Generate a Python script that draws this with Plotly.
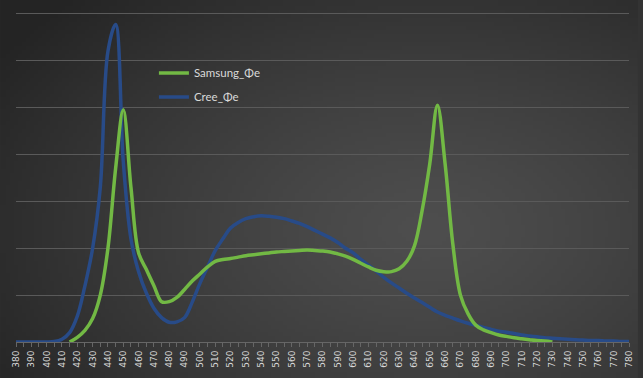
import base64, struct, zlib
import numpy as np
import plotly.graph_objects as go

# ---- data ----
cree_nm = list(range(380, 785, 5))
cree_val = [0, 0, 0, 0, 0, 0.01, 0.06, 0.2, 0.55, 1.2,
            2.0, 3.3, 6.2, 6.77, 3.85, 2.2, 1.5, 1.05, 0.72, 0.52,
            0.42, 0.43, 0.52, 0.85, 1.25, 1.6, 1.95, 2.2, 2.43, 2.55,
            2.63, 2.67, 2.69, 2.68, 2.66, 2.63, 2.58, 2.53, 2.46, 2.38,
            2.3, 2.22, 2.12, 2.0, 1.9, 1.76, 1.64, 1.51, 1.38, 1.26,
            1.15, 1.04, 0.94, 0.84, 0.74, 0.64, 0.57, 0.51, 0.45, 0.4,
            0.36, 0.31, 0.27, 0.23, 0.21, 0.18, 0.15, 0.13, 0.11, 0.09,
            0.08, 0.07, 0.06, 0.05, 0.04, 0.03, 0.03, 0.02, 0.02, 0.01,
            0.01]

samsung_nm = list(range(415, 735, 5))
samsung_val = [0.0, 0.1, 0.25, 0.5, 1.0, 2.0, 3.7, 4.95, 3.3, 1.9,
               1.55, 1.2, 0.86, 0.86, 0.95, 1.12, 1.3, 1.45, 1.6, 1.72,
               1.76, 1.78, 1.81, 1.84, 1.86, 1.88, 1.9, 1.92, 1.93, 1.94,
               1.95, 1.96, 1.95, 1.94, 1.92, 1.88, 1.83, 1.76, 1.68, 1.6,
               1.53, 1.5, 1.5, 1.56, 1.72, 2.05, 2.8, 3.8, 5.05, 3.8,
               2.1, 1.0, 0.6, 0.36, 0.26, 0.2, 0.15, 0.12, 0.09, 0.07,
               0.05, 0.03, 0.02, 0.0]

tick_labels = list(range(380, 790, 10))

W, H = 643, 378
ML, MR, MT, MB = 16, 9, 9, 36
PW, PH = W - ML - MR, H - MT - MB

# ---- radial gradient background as PNG data URI ----
def gradient_uri(w=161, h=95):
    ys, xs = np.mgrid[0:h, 0:w]
    px = xs / (w - 1) * W
    py = ys / (h - 1) * H
    d = np.sqrt(((px - 430) / 520) ** 2 + ((py - 230) / 330) ** 2)
    t = np.clip(d, 0, 1) ** 1.3
    inner, outer = 78.0, 36.0
    c = (inner + (outer - inner) * t).astype(np.uint8)
    arr = np.stack([c, c, c], axis=-1)
    raw = b"".join(b"\x00" + arr[r].tobytes() for r in range(h))

    def chunk(tag, data):
        return struct.pack(">I", len(data)) + tag + data + struct.pack(">I", zlib.crc32(tag + data) & 0xffffffff)

    png = b"\x89PNG\r\n\x1a\n" + chunk(b"IHDR", struct.pack(">IIBBBBB", w, h, 8, 2, 0, 0, 0)) \
        + chunk(b"IDAT", zlib.compress(raw, 9)) + chunk(b"IEND", b"")
    return "data:image/png;base64," + base64.b64encode(png).decode()

fig = go.Figure()
fig.add_trace(go.Scatter(x=cree_nm, y=cree_val, mode="lines", name="Cree_Φe",
                         line=dict(color="#284b88", width=3.5, shape="spline", smoothing=1.0),
                         legend="legend2"))
fig.add_trace(go.Scatter(x=samsung_nm, y=samsung_val, mode="lines", name="Samsung_Φe",
                         line=dict(color="#72b944", width=3.5, shape="spline", smoothing=1.0),
                         legend="legend"))

fig.update_layout(
    width=W, height=H,
    margin=dict(l=ML, r=MR, t=MT, b=MB),
    paper_bgcolor="#333333",
    plot_bgcolor="rgba(0,0,0,0)",
    images=[dict(source=gradient_uri(), xref="paper", yref="paper", x=-ML / PW, y=1 + MT / PH,
                 sizex=W / PW, sizey=H / PH, sizing="stretch", xanchor="left", yanchor="top",
                 layer="below")],
    font=dict(family="Lato, Open Sans, sans-serif", color="#d9d9d9"),
    showlegend=True,
    legend=dict(x=0.225, y=0.808, xanchor="left", yanchor="middle", bgcolor="rgba(0,0,0,0)",
                font=dict(size=11.5, color="#d9d9d9"), itemwidth=30),
    legend2=dict(x=0.225, y=0.736, xanchor="left", yanchor="middle", bgcolor="rgba(0,0,0,0)",
                 font=dict(size=11.5, color="#d9d9d9"), itemwidth=30),
    xaxis=dict(range=[380, 780], tickvals=tick_labels, ticktext=[str(v) for v in tick_labels],
               tickangle=-90, tickfont=dict(size=9, color="#d9d9d9", family="DejaVu Sans"),
               showgrid=False, zeroline=False, showline=True, linecolor="#666666", linewidth=1,
               ticks="outside", ticklen=4, tickcolor="#666666",
               minor=dict(dtick=5, tick0=380, ticks="outside", ticklen=4, tickcolor="#666666")),
    yaxis=dict(range=[0, 7.1], tickvals=[1, 2, 3, 4, 5, 6, 7], showticklabels=False,
               showgrid=True, gridcolor="#5a5a5a", gridwidth=1, zeroline=False, showline=False),
)

fig.write_html("out.html", config={"displayModeBar": False},
               post_script="document.body.style.margin='0';document.body.style.overflow='hidden';")
